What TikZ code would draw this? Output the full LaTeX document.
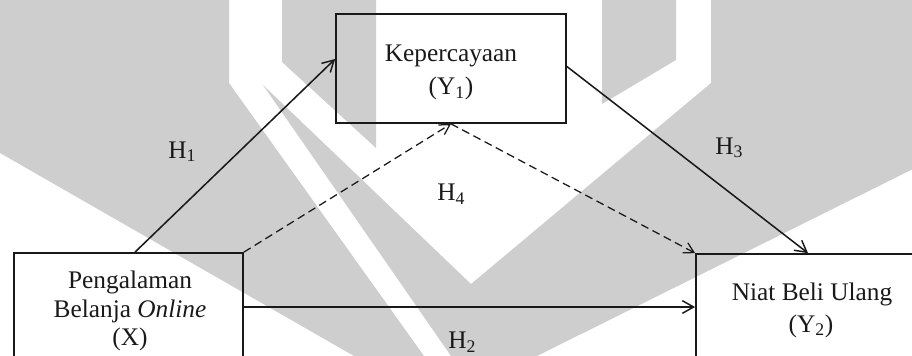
\documentclass[tikz,border=0pt]{standalone}
\usepackage{fontspec}
\setmainfont{Liberation Serif}
\usetikzlibrary{arrows.meta,calc}
\definecolor{wmgray}{RGB}{206,206,206}
\definecolor{ink}{RGB}{25,25,25}
\begin{document}
\begin{tikzpicture}[x=0.75pt,y=-0.75pt,
  every node/.style={font=\fontsize{19}{23}\selectfont, text=ink},
  varbox/.style={draw=ink, line width=1.3pt, rectangle, inner sep=0pt},
  txt/.style={inner sep=0pt, anchor=base},
  conn/.style={draw=ink, line width=1.15pt, -{Straight Barb[length=8.5pt,width=9.5pt,line width=1.1pt]}},
  dconn/.style={draw=ink, line width=0.95pt, dash pattern=on 6pt off 3.5pt,
    -{Straight Barb[length=7.5pt,width=8.5pt,line width=0.95pt]}}
]
\useasboundingbox (0,0) rectangle (912,356);
\clip (0,0) rectangle (912,356);

% background emblem
\fill[wmgray] (0,0) -- (229,0) -- (229,83) -- (424,356) -- (354,356) -- (0,153) -- cycle;
\fill[wmgray] (263,85) -- (451,356) -- (537,356) -- (912,169.5) -- (912,0) -- (711,0)
  -- (711,83) -- (471,284) -- cycle;
\fill[wmgray] (282,0) -- (376,0) -- (376,148) -- (282,62) -- cycle;
\fill[wmgray] (602,0) -- (676,0) -- (676,60) -- (602,104) -- cycle;

% variable boxes
\node[varbox, minimum width=172.5pt, minimum height=81.75pt] (tbox) at (451,68.5) {};
\node[varbox, minimum width=171.75pt, minimum height=81pt] (lbox) at (128.5,307) {};
\node[varbox, minimum width=172.5pt, minimum height=79.5pt] (rbox) at (811,307) {};

% box texts
\node[txt] (t1) at (451,62) {Kepercayaan};
\node[txt] (t2) at (451,95) {(Y\textsubscript{1})};
\node[txt] (l1) at (130,288) {Pengalaman};
\node[txt] (l2) at (130,317) {Belanja \textit{Online}};
\node[txt] (l3) at (130,345) {(X)};
\node[txt] (r1) at (812,300.5) {Niat Beli Ulang};
\node[txt] (r2) at (811,332) {(Y\textsubscript{2})};

% hypothesis paths
\draw[conn] ($(lbox.north)+(6.5,0)$) -- ($(tbox.west)+(0,-9.5)$);
\draw[conn] ($(tbox.east)+(0,-2)$) -- ($(rbox.north)+(-3,0)$);
\draw[conn] (lbox.east) -- (rbox.west);
\draw[dconn] (lbox.north east) -- (tbox.south);
\draw[dconn] (tbox.south) -- (rbox.north west);

% hypothesis labels
\node[inner sep=0pt, anchor=base west] (h1) at (168,158) {H\textsubscript{1}};
\node[inner sep=0pt, anchor=base west] (h3) at (715,154) {H\textsubscript{3}};
\node[inner sep=0pt, anchor=base west] (h4) at (437,200.5) {H\textsubscript{4}};
\node[inner sep=0pt, anchor=base west] (h2) at (448,348.5) {H\textsubscript{2}};
\end{tikzpicture}
\end{document}
